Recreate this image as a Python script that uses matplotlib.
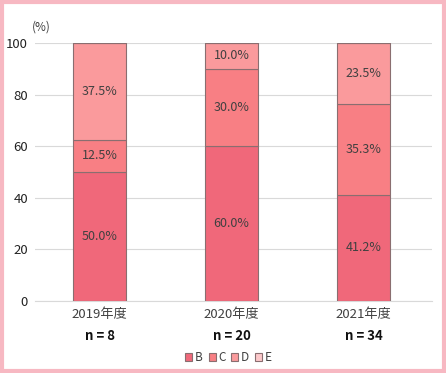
import numpy as np
import matplotlib.pyplot as plt
from matplotlib.patches import Rectangle

plt.rcParams['font.family'] = ['Noto Sans CJK JP', 'DejaVu Sans']

# data
years = ['2019年度', '2020年度', '2021年度']
counts = [8, 20, 34]
series = ['B', 'C', 'D', 'E']
vals_B = [50.0, 60.0, 41.2]
vals_C = [12.5, 30.0, 35.3]
vals_D = [37.5, 10.0, 23.5]
vals_E = [0.0, 0.0, 0.0]
colors = ['#f0687a', '#f87f84', '#fa9a9c', '#fcc8ca']

fig = plt.figure(figsize=(4.46, 3.73), dpi=100)
# pink frame
fig.patches.append(Rectangle((2 / 446, 2 / 373), 442 / 446, 369 / 373, transform=fig.transFigure,
                             fill=False, edgecolor='#f7b8c2', linewidth=3, zorder=0))

ax = fig.add_axes([35 / 446, 72 / 373, 397 / 446, 258 / 373])
x = np.arange(len(years))
bottom = np.zeros(len(years))
for name, vals, c in zip(series, [vals_B, vals_C, vals_D, vals_E], colors):
    vals = np.array(vals)
    ax.bar(x, vals, 0.4, bottom=bottom, color=c, edgecolor='#8a6e70', linewidth=0.8,
           label=name, zorder=3)
    for xi, b, v in zip(x, bottom, vals):
        if v > 0:
            ax.text(xi, b + v / 2, f'{v:.1f}%', ha='center', va='center',
                    fontsize=9, color='#404040', zorder=4)
    bottom += vals

ax.set_xlim(-0.49, 2.52)
ax.set_ylim(0, 100)
ax.set_yticks(range(0, 101, 20))
ax.yaxis.grid(True, color='#d9d9d9', linewidth=0.8, zorder=0)
for s in ['top', 'right', 'left']:
    ax.spines[s].set_visible(False)
ax.spines['bottom'].set_color('#d9d9d9')
ax.tick_params(axis='both', length=0, labelsize=9.5, labelcolor='#222222')
ax.tick_params(axis='y', pad=5)
ax.set_xticks(x)
ax.set_xticklabels(years, color='#404040')
ax.tick_params(axis='x', pad=5)
for xi, n in zip(x, counts):
    ax.text(xi, -0.135, f'n = {n}', transform=ax.get_xaxis_transform(),
            ha='center', va='center', fontsize=9.5, fontweight='bold', color='#111111')
fig.text(41 / 446, 1 - 27 / 373, '(%)', ha='center', va='center', fontsize=8.5, color='#404040')

ax.legend(loc='center', bbox_to_anchor=(0.487, -0.22), ncol=4, frameon=False,
          fontsize=8.5, handlelength=0.6, handleheight=0.6, handletextpad=0.2,
          columnspacing=0.5, labelcolor='#404040')

plt.savefig('out.png', dpi=100)
